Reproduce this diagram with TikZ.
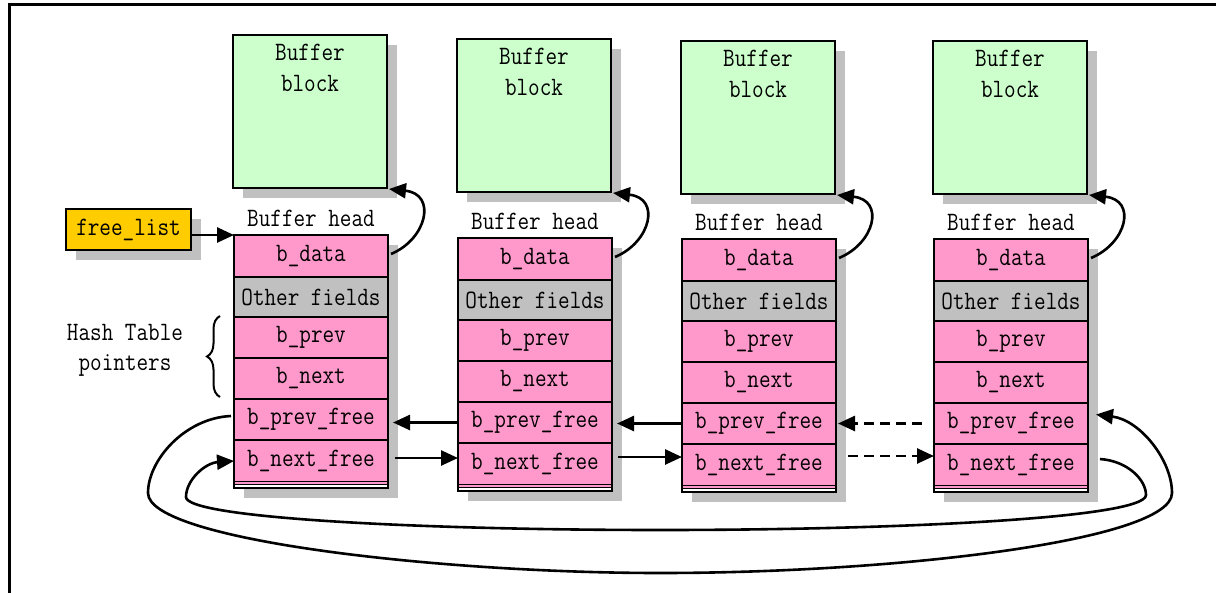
\documentclass[tikz,border=0pt]{standalone}
\usepackage{fontspec}
\newfontfamily\dfont[FakeStretch=0.85]{Latin Modern Mono}
\usetikzlibrary{arrows.meta,decorations.pathreplacing}
\definecolor{blockgreen}{HTML}{CCFFCC}
\definecolor{fieldpink}{HTML}{FF99CC}
\definecolor{shadowgray}{HTML}{C0C0C0}
\definecolor{listyellow}{HTML}{FFCC00}
\tikzset{
  every node/.style={font=\dfont\fontsize{26.5}{30}\selectfont, inner sep=0pt, outer sep=0pt},
  fieldbox/.style={draw=black, line width=1.6pt, minimum width=154pt, fill=fieldpink},
  otherbox/.style={fieldbox, fill=shadowgray},
  blockbox/.style={draw=black, line width=2.2pt, fill=blockgreen, minimum width=154pt, minimum height=153pt},
  shadowfill/.style={fill=shadowgray},
  arr/.style={line width=2.6pt, -{Triangle[length=17pt, width=15pt]}},
  darr/.style={arr, dash pattern=on 10pt off 6pt},
}
\newcommand\bhcol[3]{%
  \fill[shadowfill] ({#2+10},{#3+10}) rectangle ({#2+164},{#3+263});
  \node[fieldbox, minimum height=42pt, anchor=north west] (#1data) at (#2,#3) {b\_data};
  \node[otherbox, minimum height=40pt, anchor=north] (#1oth) at (#1data.south) {Other fields};
  \node[fieldbox, minimum height=41pt, anchor=north] (#1prev) at (#1oth.south) {b\_prev};
  \node[fieldbox, minimum height=41pt, anchor=north] (#1next) at (#1prev.south) {b\_next};
  \node[fieldbox, minimum height=41pt, anchor=north] (#1pf) at (#1next.south) {b\_prev\_free};
  \node[fieldbox, minimum height=42pt, anchor=north] (#1nf) at (#1pf.south) {b\_next\_free};
  \fill[fieldpink] (#1nf.south west) rectangle ++(154,6);
  \draw[line width=1pt] ([yshift=-2.5pt]#1nf.south west) -- ++(154,0);
  \draw[line width=1.2pt, white] ([yshift=-4pt]#1nf.south west) -- ++(154,0);
  \draw[line width=2.6pt] (#1data.north west) rectangle ([yshift=-6pt]#1nf.south east);
  \node[anchor=base] (#1lbl) at ({#2+77},{#3-9}) {Buffer head};
}
\newcommand\bblock[3]{%
  \fill[shadowfill] ({#2+10},{#3+10}) rectangle ({#2+164},{#3+163});
  \node[blockbox, anchor=north west] (#1) at (#2,#3) {};
  \node[anchor=base] (#1t) at ({#2+77},{#3+25}) {Buffer};
  \node[anchor=base] (#1u) at ({#2+77},{#3+56}) {block};
}
\begin{document}
\begin{tikzpicture}[x=1pt,y=-1pt]
\useasboundingbox[fill=white] (0,0) rectangle (1216,592);
\draw[line width=3pt] (9,640) -- (9,4.5) -- (1260,4.5);

\bblock{blka}{233}{35}
\bblock{blkb}{457}{39}
\bblock{blkc}{681}{41}
\bblock{blkd}{933}{41}

\bhcol{ca}{234}{235}
\bhcol{cb}{458}{238}
\bhcol{cc}{682}{239}
\bhcol{cd}{934}{239}

% free list
\fill[shadowfill] (76,219) rectangle (201,260);
\node[draw=black, line width=2.2pt, fill=listyellow, minimum width=125pt, minimum height=41pt, anchor=north west] (fl) at (66,209) {free\_list};
\draw[arr] (fl.east |- cadata.north west) -- (cadata.north west);

% hash table brace
\node (ht1) at (125,332) {Hash Table};
\node (ht2) at (125,365) {pointers};
\draw[line width=2pt, decorate, decoration={brace, amplitude=13pt}] (220,397) -- (220,316);

% b_data -> blocks
\foreach \c/\b in {ca/blka, cb/blkb, cc/blkc, cd/blkd}{
  \draw[arr] ([xshift=3pt,yshift=2pt]\c data.east) .. controls +(36,-15) and +(48,5) .. ([xshift=2pt,yshift=-1pt]\b.south east);
}

% prev_free arrows
\draw[arr] (cbpf.west) -- ([xshift=5pt]cbpf.west -| capf.east);
\draw[arr] (ccpf.west) -- ([xshift=5pt]ccpf.west -| cbpf.east);
\draw[darr] ([xshift=-12pt]cdpf.west) -- ([xshift=2pt]cdpf.west -| ccpf.east);

% next_free arrows
\draw[arr] ([xshift=7pt,yshift=3pt]canf.east) -- ([yshift=3pt]canf.east -| cbnf.west);
\draw[arr] ([xshift=6pt,yshift=7pt]cbnf.east) -- ([yshift=7pt]cbnf.east -| ccnf.west);
\draw[darr] ([xshift=12pt,yshift=9pt]ccnf.east) -- ([yshift=9pt]ccnf.east -| cdnf.west);

% outer loop: first prev_free <- ... last prev_free
\draw[arr] ([xshift=-3pt,yshift=3.5pt]capf.west) .. controls (185,418) and (148,460) .. (148,493)
  .. controls (148,540) and (440,573) .. (660,573)
  .. controls (900,573) and (1172,540) .. (1172,493)
  .. controls (1172,460) and (1140,420) .. ([xshift=8pt,yshift=9pt]cdpf.east);

% inner loop: last next_free -> first next_free
\draw[arr] ([xshift=12pt,yshift=6pt]cdnf.east) .. controls (1128,461) and (1146,480) .. (1146,495)
  .. controls (1146,518) and (900,530) .. (660,530)
  .. controls (420,530) and (186,518) .. (186,497)
  .. controls (186,480) and (205,463) .. (canf.west);
\end{tikzpicture}
\end{document}
